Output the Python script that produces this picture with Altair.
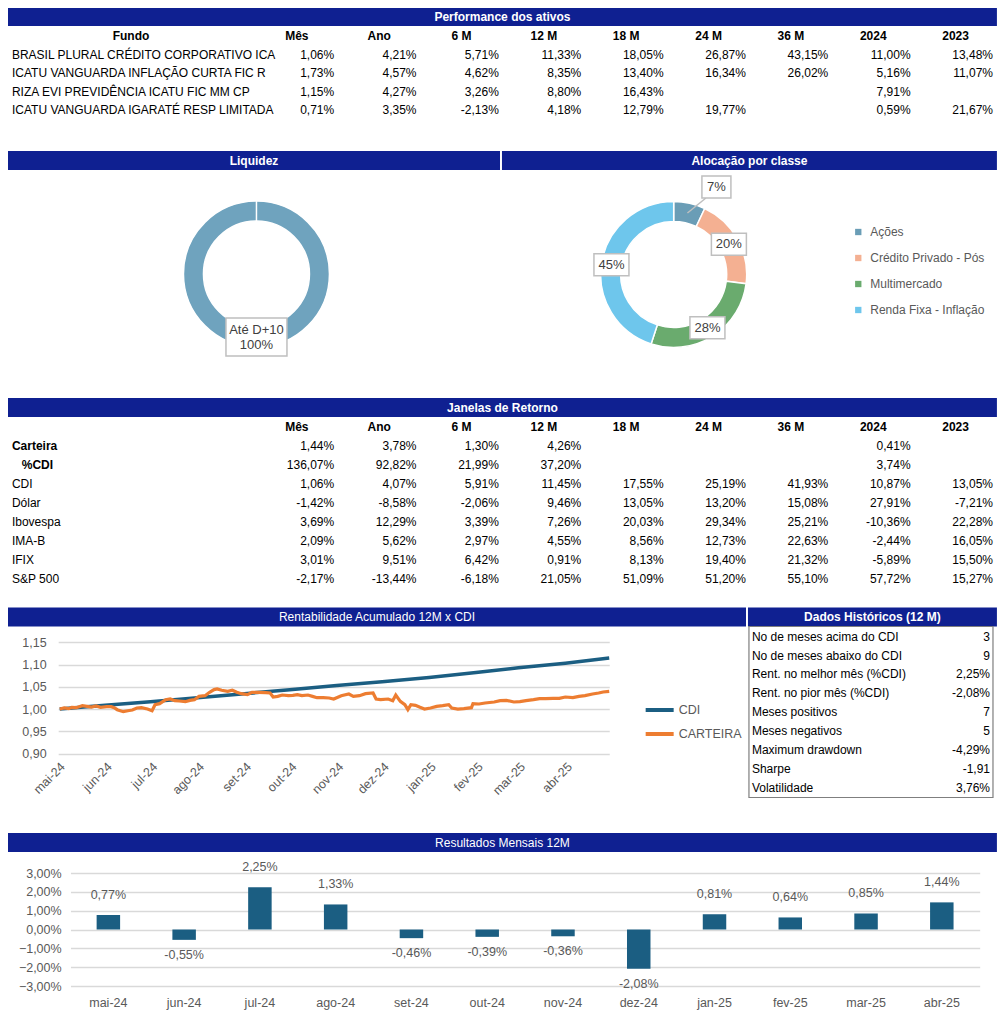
import math
import altair as alt
import pandas as pd

# ---------------- layout helpers (styling only) ----------------
K = 0.984
W = 989
SEC_REF = [0, 120, 395, 603, 828, 1016]
MY = [0, 112, 387, 595, 820, 1008]
H = [MY[i + 1] - MY[i] for i in range(5)]


def X(v):
    return round(v * K, 2)


def Ys(i):
    return lambda v: round(v - SEC_REF[i], 2)


NAVY = "#0f2091"
GRAY = "#595959"
GRID = "#d9d9d9"
BLUE = "#1b5e82"
ORANGE = "#ed7d31"
FONT = "Liberation Sans, Arial, Helvetica, sans-serif"

# ---------------- data ----------------
cols = ["Mês", "Ano", "6 M", "12 M", "18 M", "24 M", "36 M", "2024", "2023"]

perf_funds = [
    "BRASIL PLURAL CRÉDITO CORPORATIVO ICA",
    "ICATU VANGUARDA INFLAÇÃO CURTA FIC R",
    "RIZA EVI PREVIDÊNCIA ICATU FIC MM CP",
    "ICATU VANGUARDA IGARATÉ RESP LIMITADA",
]
perf_brasil_plural = [1.06, 4.21, 5.71, 11.33, 18.05, 26.87, 43.15, 11.00, 13.48]
perf_inflacao_curta = [1.73, 4.57, 4.62, 8.35, 13.40, 16.34, 26.02, 5.16, 11.07]
perf_riza_evi = [1.15, 4.27, 3.26, 8.80, 16.43, None, None, 7.91, None]
perf_igarate = [0.71, 3.35, -2.13, 4.18, 12.79, 19.77, None, 0.59, 21.67]

ret_rows = ["Carteira", "%CDI", "CDI", "Dólar", "Ibovespa", "IMA-B", "IFIX", "S&P 500"]
ret_carteira = [1.44, 3.78, 1.30, 4.26, None, None, None, 0.41, None]
ret_pct_cdi = [136.07, 92.82, 21.99, 37.20, None, None, None, 3.74, None]
ret_cdi = [1.06, 4.07, 5.91, 11.45, 17.55, 25.19, 41.93, 10.87, 13.05]
ret_dolar = [-1.42, -8.58, -2.06, 9.46, 13.05, 13.20, 15.08, 27.91, -7.21]
ret_ibovespa = [3.69, 12.29, 3.39, 7.26, 20.03, 29.34, 25.21, -10.36, 22.28]
ret_imab = [2.09, 5.62, 2.97, 4.55, 8.56, 12.73, 22.63, -2.44, 16.05]
ret_ifix = [3.01, 9.51, 6.42, 0.91, 8.13, 19.40, 21.32, -5.89, 15.50]
ret_sp500 = [-2.17, -13.44, -6.18, 21.05, 51.09, 51.20, 55.10, 57.72, 15.27]

liq_names = ["Até D+10"]
liq_share = [100]
aloc_classes = ["Ações", "Crédito Privado - Pós", "Multimercado", "Renda Fixa - Inflação"]
aloc_share = [7, 20, 28, 45]
aloc_colors = ["#6a9db6", "#f4b092", "#6aab6e", "#6ec6ec"]
LIQ_COLOR = "#6fa3be"

hist_labels = [
    "No de meses acima do CDI", "No de meses abaixo do CDI", "Rent. no melhor mês (%CDI)",
    "Rent. no pior mês (%CDI)", "Meses positivos", "Meses negativos",
    "Maximum drawdown", "Sharpe", "Volatilidade",
]
hist_values = [3, 9, 2.25, -2.08, 7, 5, -4.29, -1.91, 3.76]
hist_units = ["", "", "%", "%", "", "", "%", "", "%"]

# accumulated index, CDI (read at month marks)
cdi_dates = ["2024-05-02", "2024-06-01", "2024-07-01", "2024-08-01", "2024-09-01", "2024-10-01",
             "2024-11-01", "2024-12-01", "2025-01-01", "2025-02-01", "2025-03-01", "2025-04-01",
             "2025-04-30"]
cdi_values = [1.0000, 1.0083, 1.0163, 1.0255, 1.0345, 1.0432, 1.0529, 1.0612, 1.0711,
              1.0819, 1.0926, 1.1031, 1.1145]

# carteira (days after 2024-05-02, value)
cart_days = [0, 3, 6, 8, 11, 15, 18, 21, 24, 27, 31, 34, 36, 38, 42, 45, 48, 51, 54, 58,
             61, 63, 66, 70, 73, 76, 79, 83, 86, 89, 92, 96, 99, 102, 104, 107, 111, 114, 117, 120,
             124, 127, 131, 136, 139, 141, 144, 147, 151, 154, 157, 160, 164, 167, 170, 174, 178, 181, 186, 191,
             194, 198, 202, 207, 209, 212, 217, 220, 222, 225, 228, 230, 232, 235, 238, 241, 245, 249, 253, 257,
             259, 263, 267, 272, 273, 277, 281, 287, 291, 295, 300, 304, 308, 313, 317, 321, 326, 330, 334, 339,
             343, 347, 352, 356, 359, 363]
cart_values = [1.0000, 1.0023, 1.0008, 1.0038, 1.0030, 1.0075, 1.0060, 1.0045, 1.0068, 1.0038,
               1.0053, 1.0053, 1.0030, 0.9985, 0.9940, 0.9962, 0.9977, 1.0023, 1.0030, 1.0000,
               0.9962, 1.0098, 1.0120, 1.0210, 1.0225, 1.0188, 1.0180, 1.0165, 1.0195, 1.0210,
               1.0285, 1.0300, 1.0376, 1.0436, 1.0451, 1.0421, 1.0398, 1.0421, 1.0376, 1.0345,
               1.0323, 1.0376, 1.0376, 1.0368, 1.0360, 1.0270, 1.0285, 1.0315, 1.0300, 1.0308,
               1.0323, 1.0300, 1.0315, 1.0285, 1.0255, 1.0255, 1.0248, 1.0225, 1.0300, 1.0338,
               1.0285, 1.0300, 1.0345, 1.0360, 1.0225, 1.0210, 1.0225, 1.0188, 1.0315, 1.0173,
               1.0098, 0.9985, 1.0098, 1.0083, 1.0038, 1.0000, 1.0023, 1.0060, 1.0075, 1.0098,
               1.0023, 1.0000, 1.0008, 1.0030, 1.0120, 1.0113, 1.0135, 1.0158, 1.0188, 1.0195,
               1.0158, 1.0165, 1.0188, 1.0210, 1.0233, 1.0233, 1.0240, 1.0240, 1.0270, 1.0255,
               1.0285, 1.0300, 1.0338, 1.0360, 1.0383, 1.0398]
y_ticks_line = [0.90, 0.95, 1.00, 1.05, 1.10, 1.15]

months = ["mai-24", "jun-24", "jul-24", "ago-24", "set-24", "out-24", "nov-24", "dez-24",
          "jan-25", "fev-25", "mar-25", "abr-25"]
monthly_results = [0.77, -0.55, 2.25, 1.33, -0.46, -0.39, -0.36, -2.08, 0.81, 0.64, 0.85, 1.44]
y_ticks_bar = [-3, -2, -1, 0, 1, 2, 3]


# ---------------- helpers ----------------
def pct(v):
    return f"{v:.2f}".replace(".", ",") + "%"


def header(yf, x0, x1, y0, y1, title, bold=True):
    df = pd.DataFrame({"t": [title]})
    rect = alt.Chart(df).mark_rect(color=NAVY).encode(
        x=alt.value(X(x0)), x2=alt.value(X(x1)), y=alt.value(yf(y0)), y2=alt.value(yf(y1)))
    txt = alt.Chart(df).mark_text(
        color="white", font=FONT, fontSize=12, fontWeight="bold" if bold else "normal",
        align="center", baseline="middle").encode(
        x=alt.value(X((x0 + x1) / 2)), y=alt.value(yf((y0 + y1) / 2)), text="t:N")
    return [rect, txt]


def long_table(row_names, rows_values):
    recs = []
    for name, vals in zip(row_names, rows_values):
        for c, v in zip(cols, vals):
            if v is not None:
                recs.append({"row": name, "col": c, "txt": pct(v)})
    return pd.DataFrame(recs)


COL_X = alt.X("col:N", scale=alt.Scale(type="point", domain=cols, range=[X(331.5), X(1001)], padding=0),
              axis=None)


def table_section(yf, title, title_y, head_y, row_names, rows_values, first_row_y, last_row_y,
                  label_layers_fn):
    row_y = alt.Y("row:N", scale=alt.Scale(type="point", domain=row_names,
                                           range=[yf(first_row_y), yf(last_row_y)], padding=0), axis=None)
    layers = header(yf, 0, 1005, title_y[0], title_y[1], title)
    layers.append(alt.Chart(pd.DataFrame({"col": cols})).mark_text(
        font=FONT, fontSize=12, fontWeight="bold", color="black", align="center", baseline="middle",
        dx=-X(38)).encode(x=COL_X, y=alt.value(yf(head_y)), text="col:N"))
    layers.append(alt.Chart(long_table(row_names, rows_values)).mark_text(
        font=FONT, fontSize=12, color="black", align="right", baseline="middle").encode(
        x=COL_X, y=row_y, text="txt:N"))
    layers += label_layers_fn(row_y)
    return layers


# ---------------- section 1: performance ----------------
y1 = Ys(0)


def perf_labels(row_y):
    return [
        alt.Chart(pd.DataFrame({"t": ["Fundo"]})).mark_text(
            font=FONT, fontSize=12, fontWeight="bold", color="black", align="center", baseline="middle").encode(
            x=alt.value(X(125)), y=alt.value(y1(27.5)), text="t:N"),
        alt.Chart(pd.DataFrame({"row": perf_funds})).mark_text(
            font=FONT, fontSize=12, color="black", align="left", baseline="middle").encode(
            x=alt.value(X(4)), y=row_y, text="row:N"),
    ]


s1 = alt.layer(*table_section(
    y1, "Performance dos ativos", (0, 18), 27.5, perf_funds,
    [perf_brasil_plural, perf_inflacao_curta, perf_riza_evi, perf_igarate], 46.5, 102, perf_labels)
).properties(width=W, height=H[0])

# ---------------- section 2: donuts ----------------
y2 = Ys(1)
R_IN, R_OUT = 53, 73


def donut_label_df(names, shares, cx, cy, r, texts, box_w, box_h, nudges):
    total = float(sum(shares))
    cum = 0.0
    recs = []
    for n, s, t, bw, (nx, ny) in zip(names, shares, texts, box_w, nudges):
        mid = (cum + s / 2.0) / total * 2 * math.pi
        cum += s
        px = cx + r * math.sin(mid)
        py = cy - r * math.cos(mid)
        lx, ly = px + nx, py + ny
        recs.append({"name": n, "t": t, "lx": lx, "ly": ly,
                     "bx0": lx - bw / 2, "bx1": lx + bw / 2, "by0": ly - box_h / 2, "by1": ly + box_h / 2,
                     "px": px, "py": py, "nudged": (nx, ny) != (0, 0),
                     "ex": lx - bw / 2 + 4, "ey": ly + box_h / 2})
    return pd.DataFrame(recs)


def label_layers(df, fsize, dy=0):
    box = alt.Chart(df).mark_rect(fill="white", stroke="#bfbfbf", strokeWidth=1.5).encode(
        x=alt.X("bx0:Q", scale=None), x2="bx1:Q", y=alt.Y("by0:Q", scale=None), y2="by1:Q")
    txt = alt.Chart(df).mark_text(font=FONT, fontSize=fsize, color="#404040", align="center",
                                  baseline="middle", lineBreak="\n", lineHeight=15, dy=dy).encode(
        x=alt.X("lx:Q", scale=None), y=alt.Y("ly:Q", scale=None), text="t:N")
    return [box, txt]


liq_cx, liq_cy = X(252.5), y2(274)
al_cx, al_cy = X(676.5), y2(274.5)

liq_df = pd.DataFrame({"name": liq_names, "share": liq_share, "idx": range(len(liq_names))})
al_df = pd.DataFrame({"classe": aloc_classes, "share": aloc_share, "idx": range(len(aloc_classes))})

liq_arc = alt.Chart(liq_df).mark_arc(innerRadius=R_IN, outerRadius=R_OUT, stroke="white",
                                     strokeWidth=1.5).encode(
    theta=alt.Theta("share:Q", stack=True), order=alt.Order("idx:Q"),
    color=alt.value(LIQ_COLOR), x=alt.value(liq_cx), y=alt.value(liq_cy))
liq_seam = alt.Chart(liq_df).mark_rule(color="white", strokeWidth=1.5).encode(
    x=alt.value(liq_cx), y=alt.value(liq_cy - R_OUT), y2=alt.value(liq_cy - R_IN))

al_arc = alt.Chart(al_df).mark_arc(innerRadius=R_IN, outerRadius=R_OUT, stroke="white",
                                   strokeWidth=1.5).encode(
    theta=alt.Theta("share:Q", stack=True), order=alt.Order("idx:Q"),
    color=alt.Color("classe:N", scale=alt.Scale(domain=aloc_classes, range=aloc_colors),
                    legend=alt.Legend(orient="none", legendX=X(858), legendY=y2(226), title=None,
                                      symbolType="square", symbolSize=40, symbolStrokeWidth=0,
                                      labelFont=FONT, labelFontSize=12, labelColor=GRAY,
                                      rowPadding=14, labelOffset=6)),
    x=alt.value(al_cx), y=alt.value(al_cy))

R_MID = (R_IN + R_OUT) / 2
liq_lab = donut_label_df(liq_names, liq_share, liq_cx, liq_cy, R_MID,
                         [f"{liq_names[0]}\n{liq_share[0]}%"], [61], 38, [(0, 0)])
al_lab = donut_label_df(aloc_classes, aloc_share, al_cx, al_cy, R_MID,
                        [f"{s}%" for s in aloc_share], [29, 35, 35, 35], 22,
                        [(29, -26), (0, 0), (0, 0), (0, 0)])
leader = alt.Chart(al_lab[al_lab["nudged"]]).mark_rule(color="#bfbfbf", strokeWidth=1.5).encode(
    x=alt.X("px:Q", scale=None), y=alt.Y("py:Q", scale=None), x2="ex:Q", y2="ey:Q")

s2 = alt.layer(
    *header(y2, 0, 500, 151, 170, "Liquidez"),
    *header(y2, 502, 1005, 151, 170, "Alocação por classe"),
    liq_arc, liq_seam, al_arc, leader,
    *label_layers(liq_lab, 13, dy=-7.5), *label_layers(al_lab, 13),
).resolve_scale(theta="independent").properties(width=W, height=H[1])

# ---------------- section 3: janelas de retorno ----------------
y3 = Ys(2)


def ret_labels(row_y):
    bold_df = pd.DataFrame({"row": ret_rows[:1]})
    cdi_df = pd.DataFrame({"row": ret_rows[1:2]})
    rest_df = pd.DataFrame({"row": ret_rows[2:]})
    return [
        alt.Chart(bold_df).mark_text(font=FONT, fontSize=12, fontWeight="bold", color="black",
                                     align="left", baseline="middle").encode(
            x=alt.value(X(4)), y=row_y, text="row:N"),
        alt.Chart(cdi_df).mark_text(font=FONT, fontSize=12, fontWeight="bold", color="black",
                                    align="left", baseline="middle").encode(
            x=alt.value(X(14)), y=row_y, text="row:N"),
        alt.Chart(rest_df).mark_text(font=FONT, fontSize=12, color="black",
                                     align="left", baseline="middle").encode(
            x=alt.value(X(4)), y=row_y, text="row:N"),
    ]


s3 = alt.layer(*table_section(
    y3, "Janelas de Retorno", (398, 417), 427.3, ret_rows,
    [ret_carteira, ret_pct_cdi, ret_cdi, ret_dolar, ret_ibovespa, ret_imab, ret_ifix, ret_sp500],
    445.7, 578.7, ret_labels)
).properties(width=W, height=H[2])

# ---------------- section 4: line chart + dados históricos ----------------
y4 = Ys(3)
start = pd.Timestamp("2024-05-02")
cart_df = pd.DataFrame({
    "date": [(start + pd.Timedelta(days=d)).strftime("%Y-%m-%dT00:00:00") for d in cart_days],
    "v": cart_values, "serie": "CARTEIRA"})
cdi_df = pd.DataFrame({"date": [d + "T00:00:00" for d in cdi_dates], "v": cdi_values, "serie": "CDI"})

month_ticks = [alt.DateTime(year=2024 + (m // 12), month=(m % 12) + 1, date=1) for m in range(4, 16)]
PT_MONTHS = "['jan','fev','mar','abr','mai','jun','jul','ago','set','out','nov','dez']"

x_line = alt.X("date:T",
               scale=alt.Scale(domain=[alt.DateTime(year=2024, month=5, date=1),
                                       alt.DateTime(year=2025, month=4, date=30)],
                               range=[X(51), X(611)]),
               axis=alt.Axis(values=month_ticks, orient="bottom", offset=y4(758) - H[3],
                             labelExpr=PT_MONTHS + "[month(datum.value)] + '-' + timeFormat(datum.value, '%y')",
                             labelAngle=315, labelAlign="right", labelBaseline="top", labelPadding=2,
                             grid=False, domain=False, ticks=False, title=None, labelOverlap=False,
                             labelFont=FONT, labelFontSize=12.5, labelColor=GRAY))
y_line = alt.Y("v:Q",
               scale=alt.Scale(domain=[0.90, 1.15], range=[y4(753.5), y4(642.3)], zero=False, nice=False),
               axis=alt.Axis(values=y_ticks_line, orient="left", offset=-X(51),
                             labelExpr="replace(format(datum.value, '.2f'), '.', ',')",
                             grid=True, gridColor=GRID, gridWidth=1.5, domain=False, ticks=False,
                             title=None, labelPadding=12, labelFont=FONT, labelFontSize=12.5,
                             labelColor=GRAY))
line_color = alt.Color("serie:N", scale=alt.Scale(domain=["CDI", "CARTEIRA"], range=[BLUE, ORANGE]),
                       legend=alt.Legend(orient="none", legendX=X(646), legendY=y4(708) - 14, title=None,
                                         symbolType="stroke", symbolSize=784, symbolStrokeWidth=4,
                                         labelFont=FONT, labelFontSize=12.5, labelColor=GRAY,
                                         rowPadding=-3, labelOffset=3))
lines = alt.layer(
    alt.Chart(cdi_df).mark_line(strokeWidth=3.5).encode(x=x_line, y=y_line, color=line_color),
    alt.Chart(cart_df).mark_line(strokeWidth=3.2).encode(x=x_line, y=y_line, color=line_color),
)


def fmt_hist(v, u):
    if u == "" and float(v).is_integer():
        return str(int(v))
    return f"{v:.2f}".replace(".", ",") + u


hist_df = pd.DataFrame({"row": hist_labels,
                        "txt": [fmt_hist(v, u) for v, u in zip(hist_values, hist_units)]})
hist_y = alt.Y("row:N", scale=alt.Scale(type="point", domain=hist_labels,
                                        range=[y4(636.7), y4(787.7)], padding=0), axis=None)
hist_border = alt.Chart(pd.DataFrame({"a": [0]})).mark_rect(
    fillOpacity=0, stroke="#7f7f7f", strokeWidth=1.2).encode(
    x=alt.value(X(753)), x2=alt.value(X(1001)), y=alt.value(y4(626.5)), y2=alt.value(y4(797.5)))
hist_lab = alt.Chart(hist_df).mark_text(font=FONT, fontSize=12, color="black", align="left",
                                        baseline="middle").encode(
    x=alt.value(X(756)), y=hist_y, text="row:N")
hist_val = alt.Chart(hist_df).mark_text(font=FONT, fontSize=12, color="black", align="right",
                                        baseline="middle").encode(
    x=alt.value(X(998)), y=hist_y, text="txt:N")

s4 = alt.layer(
    *header(y4, 0, 750, 607.5, 626.5, "Rentabilidade Acumulado 12M x CDI", bold=False),
    *header(y4, 752, 1005, 607.5, 626.5, "Dados Históricos (12 M)"),
    lines, hist_border, hist_lab, hist_val,
).resolve_scale(y="independent").properties(width=W, height=H[3])

# ---------------- section 5: monthly results ----------------
y5 = Ys(4)
bar_df = pd.DataFrame({"mes": months, "v": monthly_results,
                       "txt": [pct(v) for v in monthly_results]})
x_bar = alt.X("mes:N", sort=months,
              scale=alt.Scale(type="band", domain=months, range=[X(63.5), X(987.5)],
                              paddingInner=0.69, paddingOuter=0.345),
              axis=alt.Axis(orient="bottom", offset=y5(995) - H[4], labelAngle=0, labelPadding=1,
                            domain=False, ticks=False, grid=False, title=None, labelFont=FONT,
                            labelFontSize=12.5, labelColor=GRAY))
y_bar = alt.Y("v:Q", scale=alt.Scale(domain=[-3, 3], range=[y5(986), y5(873)], zero=False, nice=False),
              axis=alt.Axis(values=y_ticks_bar, orient="left", offset=-X(62),
                            labelExpr="replace(format(datum.value, '.2f'), '.', ',') + '%'",
                            grid=True, gridColor=GRID, gridWidth=1.5, domain=False, ticks=False,
                            title=None, labelPadding=X(8), labelFont=FONT, labelFontSize=12.5,
                            labelColor=GRAY))
bars = alt.Chart(bar_df).mark_bar(color=BLUE).encode(x=x_bar, y=y_bar)
pos_lab = alt.Chart(bar_df).transform_filter("datum.v > 0").mark_text(
    font=FONT, fontSize=12.5, color=GRAY, align="center", baseline="middle", dy=-20).encode(
    x=x_bar, y=y_bar, text="txt:N")
neg_lab = alt.Chart(bar_df).transform_filter("datum.v < 0").mark_text(
    font=FONT, fontSize=12.5, color=GRAY, align="center", baseline="middle", dy=15).encode(
    x=x_bar, y=y_bar, text="txt:N")

s5 = alt.layer(
    *header(y5, 0, 1005, 833, 852, "Resultados Mensais 12M", bold=False),
    bars, pos_lab, neg_lab,
).properties(width=W, height=H[4])

chart = alt.vconcat(s1, s2, s3, s4, s5, spacing=0).resolve_scale(
    color="independent", theta="independent").properties(padding=0).configure_view(strokeWidth=0)

chart.save("out.html", embed_options={"renderer": "svg", "actions": False})
